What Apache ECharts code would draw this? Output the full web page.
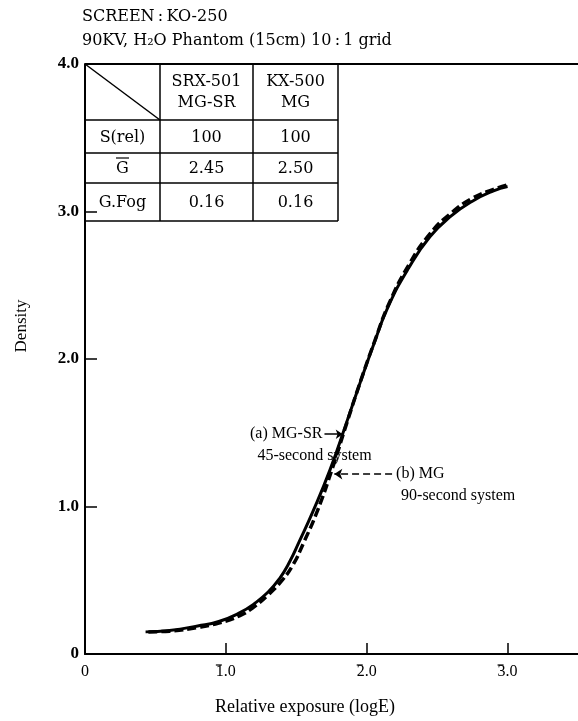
<!DOCTYPE html>
<html>
<head>
<meta charset="utf-8">
<script src="https://cdn.jsdelivr.net/npm/echarts@6/dist/echarts.min.js"></script>
<style>
  html, body { margin: 0; padding: 0; background: #fff; }
  #chart { width: 578px; height: 721px; }
</style>
</head>
<body>
<div id="chart"></div>
<script>
// characteristic curves
const exposureA = [0.43, 0.6, 0.8, 0.95, 1.1, 1.2, 1.3, 1.38, 1.45, 1.52, 1.62, 1.74, 1.85, 1.95, 2.05, 2.15, 2.3, 2.45, 2.6, 2.75, 2.9, 3.0];
const densityA  = [0.15, 0.16, 0.19, 0.22, 0.28, 0.34, 0.42, 0.51, 0.62, 0.76, 0.97, 1.25, 1.55, 1.83, 2.10, 2.35, 2.62, 2.83, 2.97, 3.07, 3.14, 3.17];
const exposureB = [0.45, 0.6, 0.8, 0.95, 1.1, 1.2, 1.3, 1.4, 1.48, 1.55, 1.65, 1.76, 1.86, 1.96, 2.06, 2.16, 2.3, 2.45, 2.6, 2.75, 2.9, 3.0];
const densityB  = [0.15, 0.155, 0.18, 0.21, 0.26, 0.32, 0.40, 0.50, 0.61, 0.75, 0.97, 1.27, 1.57, 1.86, 2.13, 2.38, 2.64, 2.85, 2.99, 3.09, 3.15, 3.18];

const xTickValues = [0, 1, 2, 3];
const xTickLabels = ['0', '1.0', '2.0', '3.0'];
const xBarred = [1, 2, 3];          // ticks whose characteristic carries a bar
const yTickValues = [0, 1, 2, 3, 4];
const yTickLabels = ['0', '1.0', '2.0', '3.0', '4.0'];

const headerLines = ['SCREEN\u2009:\u2009KO-250', '90KV, H\u2082O Phantom (15cm) 10\u2009:\u20091 grid'];
const tableHead = ['SRX-501\nMG-SR', 'KX-500\nMG'];
const tableRows = [
  ['S(rel)', '100', '100'],
  ['G', '2.45', '2.50'],
  ['G.Fog', '0.16', '0.16']
];

// annotation arrows in data units [logE, density]
const arrowA = [[1.70, 1.49], [1.83, 1.49]];
const arrowB = [[2.18, 1.22], [1.77, 1.22]];
const labelA = ['(a) MG-SR', '45-second system'];
const labelB = ['(b) MG', '90-second system'];

const SERIF = '"Liberation Serif", "DejaVu Serif", serif';
const WIDE = '"DejaVu Serif", serif';
const chart = echarts.init(document.getElementById('chart'));

// table layout (pixels)
const colX = [85, 160, 253, 338];
const rowY = [64, 120, 153, 183, 221];

const tableGraphics = [];
tableGraphics.push({ type: 'line', shape: { x1: 85, y1: 64, x2: 578, y2: 64 }, style: { stroke: '#000', lineWidth: 2 } });
for (let i = 1; i < rowY.length; i++) {
  tableGraphics.push({ type: 'line', shape: { x1: colX[0], y1: rowY[i], x2: colX[3], y2: rowY[i] }, style: { stroke: '#000', lineWidth: 1.5 } });
}
for (let j = 1; j < colX.length; j++) {
  tableGraphics.push({ type: 'line', shape: { x1: colX[j], y1: rowY[0], x2: colX[j], y2: rowY[4] }, style: { stroke: '#000', lineWidth: 1.5 } });
}
tableGraphics.push({ type: 'line', shape: { x1: colX[0], y1: rowY[0], x2: colX[1], y2: rowY[1] }, style: { stroke: '#000', lineWidth: 1.5 } });
tableHead.forEach((t, j) => {
  tableGraphics.push({
    type: 'text', x: (colX[j + 1] + colX[j + 2]) / 2, y: (rowY[0] + rowY[1]) / 2,
    style: { text: t, font: '16px ' + WIDE, fill: '#000', align: 'center', verticalAlign: 'middle', lineHeight: 21 }
  });
});
tableRows.forEach((row, i) => {
  row.forEach((t, j) => {
    tableGraphics.push({
      type: 'text', x: (colX[j] + colX[j + 1]) / 2, y: (rowY[i + 1] + rowY[i + 2]) / 2 + 1,
      style: { text: t, font: '16px ' + WIDE, fill: '#000', align: 'center', verticalAlign: 'middle' }
    });
  });
});
// bar over G (mean gradient)
const gy = (rowY[2] + rowY[3]) / 2 - 10;
tableGraphics.push({ type: 'line', shape: { x1: 116, y1: gy, x2: 129, y2: gy }, style: { stroke: '#000', lineWidth: 1.2 } });

const option = {
  animation: false,
  backgroundColor: '#fff',
  grid: { left: 85, right: 0, top: 64, bottom: 67, containLabel: false },
  xAxis: {
    type: 'value', min: 0, max: 3.5, interval: 1,
    axisLine: { lineStyle: { color: '#000', width: 2 } },
    axisTick: { inside: true, length: 11, lineStyle: { color: '#000', width: 1.5 }, customValues: xBarred },
    axisLabel: {
      customValues: xTickValues,
      formatter: v => xTickLabels[xTickValues.indexOf(Math.round(v))],
      color: '#000', fontFamily: SERIF, fontSize: 16, margin: 10
    },
    splitLine: { show: false }
  },
  yAxis: {
    type: 'value', min: 0, max: 4, interval: 1,
    axisLine: { show: true, lineStyle: { color: '#000', width: 2 } },
    axisTick: { show: true, inside: true, length: 12, lineStyle: { color: '#000', width: 1.5 } },
    axisLabel: {
      formatter: v => yTickLabels[yTickValues.indexOf(Math.round(v))],
      color: '#000', fontFamily: SERIF, fontSize: 17, fontWeight: 'bold', margin: 6
    },
    splitLine: { show: false }
  },
  series: [
    {
      name: 'MG-SR', type: 'line', smooth: 0.5, showSymbol: false,
      data: exposureA.map((x, i) => [x, densityA[i]]),
      lineStyle: { color: '#000', width: 3 },
      markLine: {
        silent: true, symbol: ['none', 'arrow'], symbolSize: 7,
        lineStyle: { color: '#000', width: 1.5, type: 'solid' }, label: { show: false },
        data: [[{ coord: arrowA[0] }, { coord: arrowA[1] }]]
      }
    },
    {
      name: 'MG', type: 'line', smooth: 0.5, showSymbol: false,
      data: exposureB.map((x, i) => [x, densityB[i]]),
      lineStyle: { color: '#000', width: 3.5, type: [9, 4] },
      markLine: {
        silent: true, symbol: ['none', 'arrow'], symbolSize: 8,
        lineStyle: { color: '#000', width: 1.5, type: [7, 4] }, label: { show: false },
        data: [[{ coord: arrowB[0] }, { coord: arrowB[1] }]]
      }
    }
  ]
};
chart.setOption(option);

// texts placed relative to data positions
const pA = chart.convertToPixel({ gridIndex: 0 }, arrowA[0]);
const pB = chart.convertToPixel({ gridIndex: 0 }, arrowB[0]);
const baseY = chart.convertToPixel({ gridIndex: 0 }, [0, 0])[1];
const textStyle = { font: '16px ' + SERIF, fill: '#000', verticalAlign: 'middle' };
const bars = xBarred.map(v => {
  const px = chart.convertToPixel({ gridIndex: 0 }, [v, 0])[0];
  return { type: 'line', shape: { x1: px - 10, y1: baseY + 11, x2: px - 4, y2: baseY + 11 }, style: { stroke: '#000', lineWidth: 1.2 } };
});
chart.setOption({
  graphic: [
    { type: 'text', x: 82, y: 17, style: { text: headerLines[0], font: '16px ' + WIDE, fill: '#000', verticalAlign: 'middle' } },
    { type: 'text', x: 82, y: 41, style: { text: headerLines[1], font: '16px ' + WIDE, fill: '#000', verticalAlign: 'middle' } },
    { type: 'text', x: 305, y: 707, style: Object.assign({}, textStyle, { text: 'Relative exposure (logE)', align: 'center', font: '18px ' + SERIF }) },
    { type: 'text', x: 22, y: 326, rotation: Math.PI / 2, style: Object.assign({}, textStyle, { text: 'Density', align: 'center', font: '17px ' + SERIF }) },
    { type: 'text', x: pA[0] - 2, y: pA[1], style: Object.assign({}, textStyle, { text: labelA[0], align: 'right' }) },
    { type: 'text', x: pA[0] - 67, y: pA[1] + 22, style: Object.assign({}, textStyle, { text: labelA[1] }) },
    { type: 'text', x: pB[0] + 4, y: pB[1], style: Object.assign({}, textStyle, { text: labelB[0] }) },
    { type: 'text', x: pB[0] + 9, y: pB[1] + 22, style: Object.assign({}, textStyle, { text: labelB[1] }) }
  ].concat(tableGraphics, bars)
});
</script>
</body>
</html>
